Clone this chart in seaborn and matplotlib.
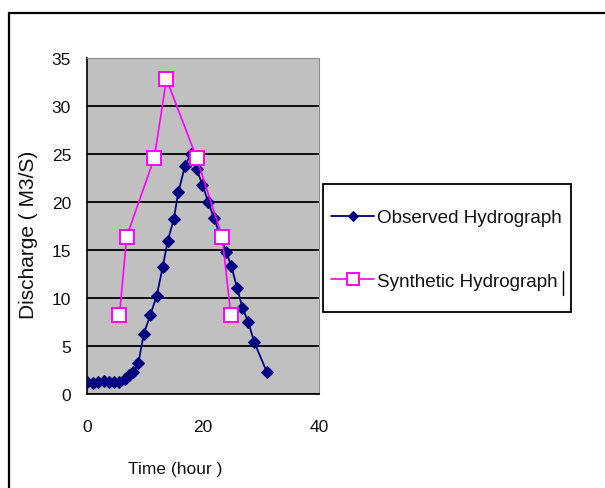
import matplotlib
matplotlib.use("Agg")
import matplotlib.pyplot as plt
import seaborn as sns
import pandas as pd
from matplotlib.patches import Rectangle
from matplotlib.lines import Line2D

# Observed hydrograph (time in hours, discharge in m3/s)
obs_time = [0.05, 1.1, 1.95, 2.9, 3.85, 4.7, 5.6, 6.55, 7.3, 8.0, 8.85, 9.8,
            10.9, 12.0, 13.05, 13.9, 14.95, 15.75, 16.9, 17.9, 18.9, 19.9,
            20.9, 21.9, 22.9, 24.0, 24.9, 25.9, 26.8, 27.8, 28.8, 31.0]
obs_q = [1.2, 1.15, 1.25, 1.4, 1.3, 1.3, 1.3, 1.6, 2.0, 2.3, 3.2, 6.3,
         8.2, 10.2, 13.2, 15.9, 18.2, 21.0, 23.8, 25.0, 23.4, 21.8,
         20.0, 18.3, 16.6, 14.8, 13.3, 11.0, 9.0, 7.5, 5.45, 2.3]

# Synthetic unit hydrograph ordinates
syn_time = [5.6, 6.85, 11.6, 13.7, 18.9, 23.3, 24.8]
syn_q = [8.2, 16.4, 24.6, 32.8, 24.6, 16.4, 8.2]

x_ticks = [0, 20, 40]
y_ticks = [0, 5, 10, 15, 20, 25, 30, 35]

obs = pd.DataFrame({"time": obs_time, "q": obs_q})
syn = pd.DataFrame({"time": syn_time, "q": syn_q})

sns.set_style("white")
plt.rcParams["font.family"] = ["Liberation Sans", "DejaVu Sans"]

W, H = 605, 489
fig = plt.figure(figsize=(W / 100, H / 100), dpi=100)
fig.patch.set_facecolor("white")


def fx(px):
    return px / W


def fy(py):
    return (H - py) / H


# outer chart border (only left and top edges fall inside the image)
fig.add_artist(Rectangle((fx(8.5), -0.1), 1.2, fy(13.5) + 0.1,
                         transform=fig.transFigure, fill=False,
                         edgecolor="black", linewidth=1.6, zorder=-2))

# legend box, drawn beneath the axes so the legend entries sit on top
fig.add_artist(Rectangle((fx(323), fy(313)), fx(571) - fx(323), fy(185) - fy(313),
                         transform=fig.transFigure, facecolor="white",
                         edgecolor="black", linewidth=1.3, zorder=-1))

ax = fig.add_axes([fx(87), fy(395), fx(319) - fx(87), fy(59) - fy(395)])
ax.set_facecolor("#C0C0C0")

sns.lineplot(data=obs, x="time", y="q", ax=ax, sort=False, estimator=None,
             color="#000080", linewidth=1.3, marker="D", markersize=6.2,
             markeredgecolor="#000080", label="Observed Hydrograph", zorder=3)
sns.lineplot(data=syn, x="time", y="q", ax=ax, sort=False, estimator=None,
             color="#FF00FF", linewidth=1.2, marker="s", markersize=9.5,
             markerfacecolor="white", markeredgecolor="#FF00FF",
             markeredgewidth=1.4, label="Synthetic Hydrograph", zorder=4)

ax.set_xlim(0, 40)
ax.set_ylim(0, 35)
ax.set_xticks(x_ticks)
ax.set_yticks(y_ticks)
ax.yaxis.grid(True, color="black", linewidth=1.3)
ax.xaxis.grid(False)
ax.set_axisbelow(True)

for side in ("top", "right"):
    ax.spines[side].set_color("#8C8C8C")
    ax.spines[side].set_linewidth(0.8)
for side in ("left", "bottom"):
    ax.spines[side].set_color("black")
    ax.spines[side].set_linewidth(1.2)

ax.tick_params(axis="both", direction="out", width=1.1, color="black",
               labelsize=12.5, labelcolor="#111111")
ax.tick_params(axis="y", length=4.5, pad=7)
ax.tick_params(axis="x", length=5.8, pad=12)

ax.set_xlabel("Time (hour )", fontsize=12.5, color="#111111")
ax.xaxis.set_label_coords(fx(175), fy(462), transform=fig.transFigure)
ax.set_ylabel("Discharge ( M3/S)", fontsize=15, color="#111111")
ax.yaxis.set_label_coords(fx(38), fy(235), transform=fig.transFigure)

leg = ax.legend(loc="upper left", bbox_to_anchor=(fx(331), fy(210)),
                bbox_transform=fig.transFigure, fontsize=13.6, frameon=False,
                handlelength=2.3, handletextpad=0.12, labelspacing=2.45,
                borderpad=0, borderaxespad=0)
for t in leg.get_texts():
    t.set_color("#111111")
for h in leg.legend_handles:
    if h.get_marker() == "D":
        h.set_markersize(5)
    else:
        h.set_markersize(8.5)

# text cursor left at the end of the second legend entry
fig.add_artist(Line2D([fx(563), fx(563)], [fy(296), fy(272)],
                      transform=fig.transFigure, color="black",
                      linewidth=1.0, zorder=7))

fig.savefig("out.png", dpi=100)
